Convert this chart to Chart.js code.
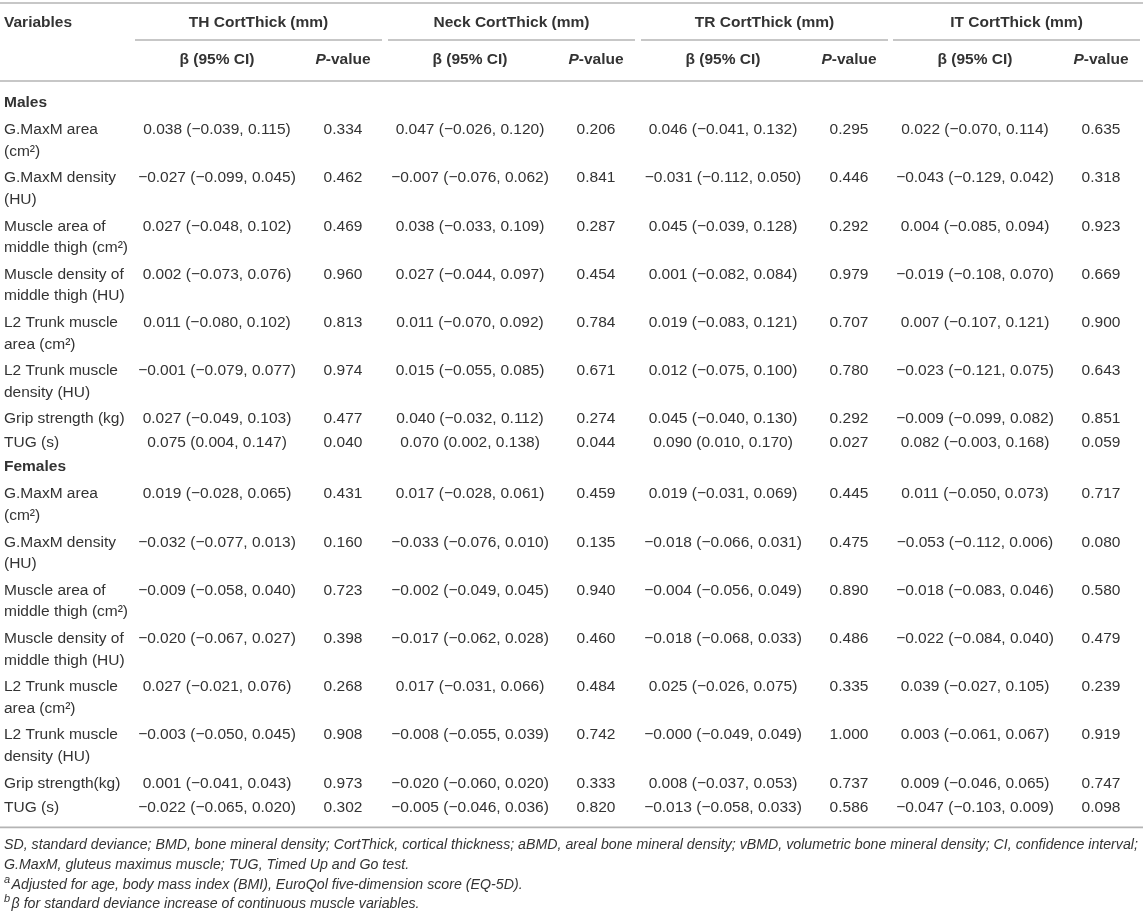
<!DOCTYPE html>
<html>
<head>
<meta charset="utf-8">
<title>CortThick table</title>
<script src="https://cdn.jsdelivr.net/npm/chart.js@4.4.1/dist/chart.umd.min.js"></script>
<style>
  html, body { margin: 0; padding: 0; background: #fff; }
  canvas { display: block; }
</style>
</head>
<body>
<canvas id="tabla" width="1143" height="917"></canvas>
<script>
// datos de la tabla
const groups = ["TH CortThick (mm)", "Neck CortThick (mm)", "TR CortThick (mm)", "IT CortThick (mm)"];
const sections = ["Males", "Females"];
const maleVars = [
  "G.MaxM area\n(cm²)", "G.MaxM density\n(HU)", "Muscle area of\nmiddle thigh (cm²)",
  "Muscle density of\nmiddle thigh (HU)", "L2 Trunk muscle\narea (cm²)", "L2 Trunk muscle\ndensity (HU)",
  "Grip strength (kg)", "TUG (s)"
];
const femaleVars = [
  "G.MaxM area\n(cm²)", "G.MaxM density\n(HU)", "Muscle area of\nmiddle thigh (cm²)",
  "Muscle density of\nmiddle thigh (HU)", "L2 Trunk muscle\narea (cm²)", "L2 Trunk muscle\ndensity (HU)",
  "Grip strength(kg)", "TUG (s)"
];

// orden: TH, Neck, TR, IT
const maleBeta = [
  [0.038, -0.027, 0.027, 0.002, 0.011, -0.001, 0.027, 0.075],
  [0.047, -0.007, 0.038, 0.027, 0.011, 0.015, 0.040, 0.070],
  [0.046, -0.031, 0.045, 0.001, 0.019, 0.012, 0.045, 0.090],
  [0.022, -0.043, 0.004, -0.019, 0.007, -0.023, -0.009, 0.082]
];
const maleLow = [
  [-0.039, -0.099, -0.048, -0.073, -0.080, -0.079, -0.049, 0.004],
  [-0.026, -0.076, -0.033, -0.044, -0.070, -0.055, -0.032, 0.002],
  [-0.041, -0.112, -0.039, -0.082, -0.083, -0.075, -0.040, 0.010],
  [-0.070, -0.129, -0.085, -0.108, -0.107, -0.121, -0.099, -0.003]
];
const maleHigh = [
  [0.115, 0.045, 0.102, 0.076, 0.102, 0.077, 0.103, 0.147],
  [0.120, 0.062, 0.109, 0.097, 0.092, 0.085, 0.112, 0.138],
  [0.132, 0.050, 0.128, 0.084, 0.121, 0.100, 0.130, 0.170],
  [0.114, 0.042, 0.094, 0.070, 0.121, 0.075, 0.082, 0.168]
];
const maleP = [
  [0.334, 0.462, 0.469, 0.960, 0.813, 0.974, 0.477, 0.040],
  [0.206, 0.841, 0.287, 0.454, 0.784, 0.671, 0.274, 0.044],
  [0.295, 0.446, 0.292, 0.979, 0.707, 0.780, 0.292, 0.027],
  [0.635, 0.318, 0.923, 0.669, 0.900, 0.643, 0.851, 0.059]
];
const femaleBeta = [
  [0.019, -0.032, -0.009, -0.020, 0.027, -0.003, 0.001, -0.022],
  [0.017, -0.033, -0.002, -0.017, 0.017, -0.008, -0.020, -0.005],
  [0.019, -0.018, -0.004, -0.018, 0.025, -0, 0.008, -0.013],
  [0.011, -0.053, -0.018, -0.022, 0.039, 0.003, 0.009, -0.047]
];
const femaleLow = [
  [-0.028, -0.077, -0.058, -0.067, -0.021, -0.050, -0.041, -0.065],
  [-0.028, -0.076, -0.049, -0.062, -0.031, -0.055, -0.060, -0.046],
  [-0.031, -0.066, -0.056, -0.068, -0.026, -0.049, -0.037, -0.058],
  [-0.050, -0.112, -0.083, -0.084, -0.027, -0.061, -0.046, -0.103]
];
const femaleHigh = [
  [0.065, 0.013, 0.040, 0.027, 0.076, 0.045, 0.043, 0.020],
  [0.061, 0.010, 0.045, 0.028, 0.066, 0.039, 0.020, 0.036],
  [0.069, 0.031, 0.049, 0.033, 0.075, 0.049, 0.053, 0.033],
  [0.073, 0.006, 0.046, 0.040, 0.105, 0.067, 0.065, 0.009]
];
const femaleP = [
  [0.431, 0.160, 0.723, 0.398, 0.268, 0.908, 0.973, 0.302],
  [0.459, 0.135, 0.940, 0.460, 0.484, 0.742, 0.333, 0.820],
  [0.445, 0.475, 0.890, 0.486, 0.335, 1.000, 0.737, 0.586],
  [0.717, 0.080, 0.580, 0.479, 0.239, 0.919, 0.747, 0.098]
];
const notes = [
  ["", "SD, standard deviance; BMD, bone mineral density; CortThick, cortical thickness; aBMD, areal bone mineral density; vBMD, volumetric bone mineral density; CI, confidence interval;"],
  ["", "G.MaxM, gluteus maximus muscle; TUG, Timed Up and Go test."],
  ["a", "Adjusted for age, body mass index (BMI), EuroQol five-dimension score (EQ-5D)."],
  ["b", "β for standard deviance increase of continuous muscle variables."]
];

// estilos y posiciones
const W = 1143, H = 917;
const FONT = "'Liberation Sans', Arial, Helvetica, sans-serif";
const TEXT = "#333333";
const RULE = "#b4b4b4";
const LINE_H = 21.5;
const groupLeft = [135, 388, 641, 893];
const groupWidth = 247;
const betaOff = 82, pOff = 208;

function fmt(v) {
  return (v < 0 || Object.is(v, -0) ? "\u2212" : "") + Math.abs(v).toFixed(3);
}

// filas
const sectionY = [];
const rowY = [[], []];
let yy = 103;
[maleVars, femaleVars].forEach(function (vars, s) {
  sectionY.push(yy);
  yy += 27;
  vars.forEach(function (v) {
    rowY[s].push(yy);
    yy += v.indexOf("\n") >= 0 ? 48.2 : 24;
  });
});
const lastRow = rowY[1][rowY[1].length - 1];
const bottomRule = lastRow + 20;
const noteY = [bottomRule + 18, bottomRule + 38, bottomRule + 58, bottomRule + 77];

// datasets: una columna por dataset
const allY = rowY[0].concat(rowY[1]);
const datasets = [];
datasets.push({
  label: "secciones",
  data: sectionY.map(function (y) { return { x: 4, y: y }; }),
  texts: sections, align: "left", font: "bold 15.5px " + FONT
});
datasets.push({
  label: "variables",
  data: allY.map(function (y) { return { x: 4, y: y }; }),
  texts: maleVars.concat(femaleVars), align: "left", font: "15.5px " + FONT
});
groups.forEach(function (g, i) {
  const ci = [];
  const pv = [];
  [[maleBeta, maleLow, maleHigh, maleP], [femaleBeta, femaleLow, femaleHigh, femaleP]].forEach(function (set) {
    set[0][i].forEach(function (b, r) {
      ci.push(fmt(b) + " (" + fmt(set[1][i][r]) + ", " + fmt(set[2][i][r]) + ")");
      pv.push(set[3][i][r].toFixed(3));
    });
  });
  datasets.push({
    label: g + " beta",
    data: allY.map(function (y) { return { x: groupLeft[i] + betaOff, y: y }; }),
    texts: ci, align: "center", font: "15.5px " + FONT
  });
  datasets.push({
    label: g + " p",
    data: allY.map(function (y) { return { x: groupLeft[i] + pOff, y: y }; }),
    texts: pv, align: "center", font: "15.5px " + FONT
  });
});

const tablePlugin = {
  id: "tabla",
  afterDatasetsDraw: function (chart) {
    const ctx = chart.ctx;
    const xs = chart.scales.x, ys = chart.scales.y;
    const px = function (v) { return xs.getPixelForValue(v); };
    const py = function (v) { return ys.getPixelForValue(v); };
    ctx.save();

    // lineas
    ctx.strokeStyle = RULE;
    ctx.lineWidth = 1.6;
    const hline = function (x0, x1, y) {
      ctx.beginPath();
      ctx.moveTo(px(x0), py(y));
      ctx.lineTo(px(x1), py(y));
      ctx.stroke();
    };
    hline(0, W, 3);
    groupLeft.forEach(function (g) { hline(g, g + groupWidth, 40); });
    hline(0, W, 81);
    hline(0, W, bottomRule);

    // encabezados
    ctx.fillStyle = TEXT;
    ctx.textBaseline = "middle";
    ctx.font = "bold 15.5px " + FONT;
    ctx.textAlign = "left";
    ctx.fillText("Variables", px(4), py(23));
    ctx.textAlign = "center";
    groups.forEach(function (g, i) {
      ctx.fillText(g, px(groupLeft[i] + groupWidth / 2), py(23));
      ctx.fillText("\u03b2 (95% CI)", px(groupLeft[i] + betaOff), py(60));
    });
    ctx.textAlign = "left";
    groupLeft.forEach(function (g) {
      ctx.font = "italic bold 15.5px " + FONT;
      const w1 = ctx.measureText("P").width;
      ctx.font = "bold 15.5px " + FONT;
      const w2 = ctx.measureText("-value").width;
      const x0 = px(g + pOff) - (w1 + w2) / 2;
      ctx.font = "italic bold 15.5px " + FONT;
      ctx.fillText("P", x0, py(60));
      ctx.font = "bold 15.5px " + FONT;
      ctx.fillText("-value", x0 + w1, py(60));
    });

    // celdas
    chart.data.datasets.forEach(function (ds, i) {
      const meta = chart.getDatasetMeta(i);
      ctx.font = ds.font;
      ctx.textAlign = ds.align;
      meta.data.forEach(function (pt, j) {
        String(ds.texts[j]).split("\n").forEach(function (line, k) {
          ctx.fillText(line, pt.x, pt.y + k * LINE_H);
        });
      });
    });

    // notas
    ctx.textAlign = "left";
    notes.forEach(function (n, i) {
      let x = px(4);
      if (n[0]) {
        ctx.font = "italic 11px " + FONT;
        ctx.fillText(n[0], x, py(noteY[i] - 5));
        x += ctx.measureText(n[0]).width + 1.5;
      }
      ctx.font = "italic 14.2px " + FONT;
      ctx.fillText(n[1], x, py(noteY[i]));
    });
    ctx.restore();
  }
};

new Chart(document.getElementById("tabla").getContext("2d"), {
  type: "scatter",
  data: { datasets: datasets },
  options: {
    responsive: false,
    animation: false,
    layout: { padding: 0 },
    elements: { point: { radius: 0, hoverRadius: 0 } },
    plugins: { legend: { display: false }, tooltip: { enabled: false } },
    scales: {
      x: { type: "linear", min: 0, max: W, display: false },
      y: { type: "linear", min: 0, max: H, reverse: true, display: false }
    }
  },
  plugins: [tablePlugin]
});
</script>
</body>
</html>
